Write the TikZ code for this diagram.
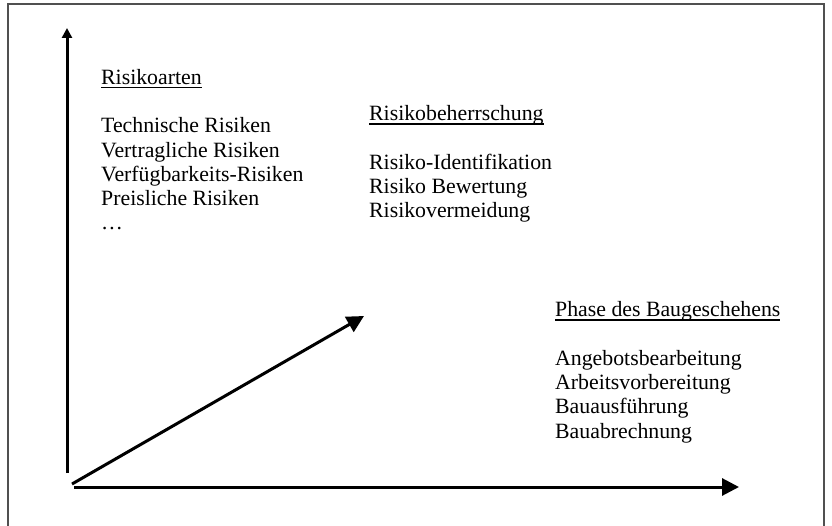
\documentclass[tikz,border=0pt]{standalone}
\usepackage{fontspec}
\setmainfont{Liberation Serif}
\usetikzlibrary{arrows.meta, positioning}
\definecolor{framegray}{RGB}{80,80,80}
\newcommand{\kopfzeile}[1]{\setbox0\hbox{#1}\rlap{\rule[-4pt]{\wd0}{1.6pt}}\box0}

\begin{document}
\begin{tikzpicture}[
        x=1pt, y=-1pt,
        liste/.style={anchor=base west, inner sep=0pt, align=left, font=\fontsize{21.8}{24.3}\selectfont},
        achse/.style={line width=3pt, -{Triangle[length=17pt, width=17pt]}},
        rahmen/.style={line width=1.2pt, framegray}
    ]
    \useasboundingbox (0,0) rectangle (832,526);
    \draw[rahmen] (8,526) -- (8,4) -- (824,4) -- (824,526);

    % Achsen
    \coordinate (ursprung) at (72,484);
    \coordinate (yfuss) at (67,473);
    \coordinate (yspitze) at (67,28);
    \coordinate (xfuss) at (74,487);
    \coordinate (xspitze) at (739,487);
    \coordinate (zspitze) at (364,316);

    \draw[achse, -{Triangle[length=10pt, width=10pt]}] (yfuss) -- (yspitze);
    \draw[achse] (xfuss) -- (xspitze);
    \draw[achse] (ursprung) -- (zspitze);

    % Beschriftungen (base = letzte Zeile)
    \node[liste] (arten) at (101,230) {\kopfzeile{Risikoarten}\\[24.3pt]
        Technische Risiken\\ Vertragliche Risiken\\ Verfügbarkeits-Risiken\\ Preisliche Risiken\\ …};
    \node[liste] (beherrschung) at (369,218) {\kopfzeile{Risikobeherrschung}\\[24.3pt]
        Risiko-Identifikation\\ Risiko Bewertung\\ Risikovermeidung};
    \node[liste] (phase) at (555,438) {\kopfzeile{Phase des Baugeschehens}\\[24.3pt]
        Angebotsbearbeitung\\ Arbeitsvorbereitung\\ Bauausführung\\ Bauabrechnung};
\end{tikzpicture}
\end{document}
